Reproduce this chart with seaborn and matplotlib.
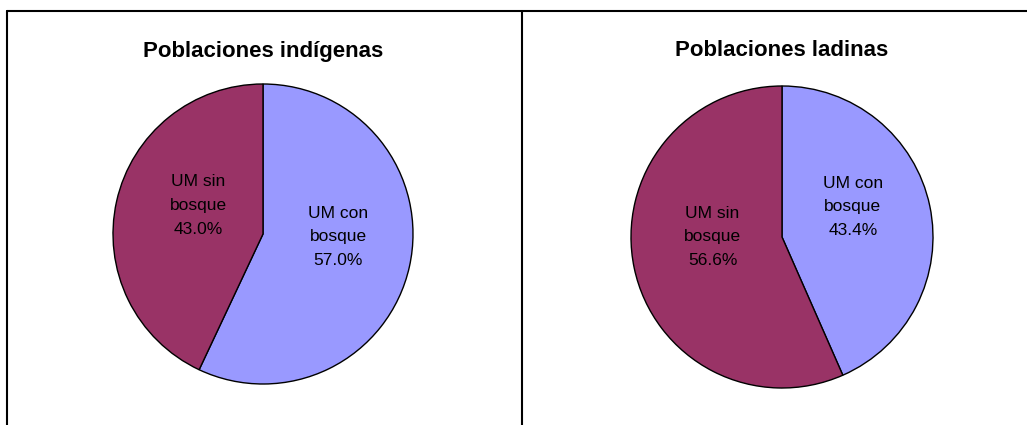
import matplotlib
matplotlib.use("Agg")
import matplotlib.pyplot as plt
import seaborn as sns
from matplotlib.lines import Line2D

sns.set_theme(style="white")
plt.rcParams['font.family'] = ['Liberation Sans', 'DejaVu Sans']

titles = ["Poblaciones indígenas", "Poblaciones ladinas"]
categories = ["UM con\nbosque", "UM sin\nbosque"]
values_indigenas = [57.0, 43.0]
values_ladinas = [43.4, 56.6]
colors = ["#9999FF", "#993366"]

W, H = 1027, 425
fig = plt.figure(figsize=(W / 100, H / 100), dpi=100)
fig.patch.set_facecolor("white")

# pie geometry in pixels: (center x, center y from top, radius)
pies = [(263, 234, 150), (782, 237, 151)]
# label positions (relative to radius) for [con, sin]
label_pos = [
    [(0.50, -0.02), (-0.43, 0.19)],
    [(0.47, 0.20), (-0.46, 0.00)],
]
title_y = [51, 51]
data = [values_indigenas, values_ladinas]

for i in range(2):
    cx, cy, r = pies[i]
    ax = fig.add_axes([(cx - r) / W, (H - cy - r) / H, 2 * r / W, 2 * r / H])
    vals = data[i]
    ax.pie(vals, colors=colors, startangle=90, counterclock=False,
           wedgeprops=dict(edgecolor="black", linewidth=1.0))
    ax.set_xlim(-1, 1)
    ax.set_ylim(-1, 1)
    ax.set_aspect("equal")
    ax.axis("off")
    for j in range(2):
        lx, ly = label_pos[i][j]
        ax.text(lx, ly, f"{categories[j]}\n{vals[j]:.1f}%", ha="center",
                va="center", fontsize=12.5, color="black", linespacing=1.72)
    fig.text(cx / W, 1 - title_y[i] / H, titles[i], ha="center", va="center",
             fontsize=16, fontweight="bold", color="black")

# frame lines
lw = 1.5
fig.add_artist(Line2D([7 / W, 1.0], [1 - 11 / H, 1 - 11 / H], color="black", lw=lw))
fig.add_artist(Line2D([7 / W, 7 / W], [0, 1 - 11 / H], color="black", lw=lw))
fig.add_artist(Line2D([522 / W, 522 / W], [0, 1 - 11 / H], color="black", lw=lw))

fig.savefig("out.png", dpi=100)
